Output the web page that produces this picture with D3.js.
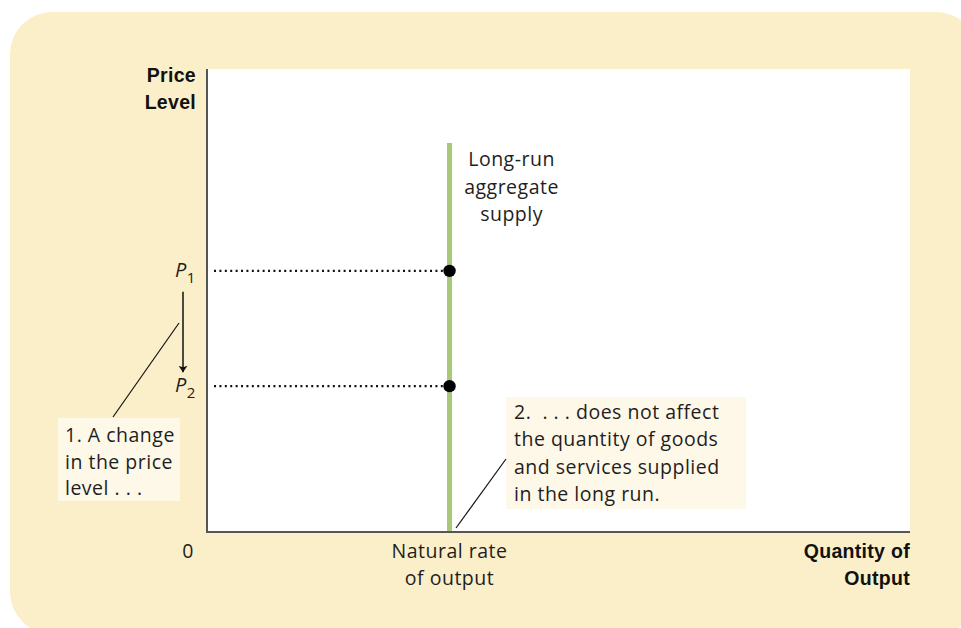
<!DOCTYPE html>
<meta charset="utf-8"/>
<title>Long-run aggregate supply</title>
<script src="https://d3js.org/d3.v7.min.js"></script>
<style>
  body { margin: 0; background: #fff; }
  text { font-family: 'Open Sans', sans-serif; fill: #1e1e1e; white-space: pre; letter-spacing: 0.5px; }
  .bold { font-family: 'Liberation Sans', sans-serif; font-weight: bold; fill: #111; letter-spacing: 0.3px; }
</style>
<svg width=961 height=628></svg>
<script>
  // values (axis units 0-100)
  const priceLevels = [56.4, 31.5];
  const priceNames = ['1', '2'];
  const naturalRate = 34.5;
  const lrasTop = 84;
  const lrasLabel = ['Long-run', 'aggregate', 'supply'];
  const note1 = ['1. A change', 'in the price', 'level . . .'];
  const note2 = ['2.  . . . does not affect', 'the quantity of goods', 'and services supplied', 'in the long run.'];
  const yTitle = ['Price', 'Level'];
  const xTitle = ['Quantity of', 'Output'];
  const xTickLabel = ['Natural rate', 'of output'];

  const svg = d3.select('svg');
  const plotL = 207, plotR = 910, plotT = 69, plotB = 532;
  const x = d3.scaleLinear().domain([0, 100]).range([plotL, plotR]);
  const y = d3.scaleLinear().domain([0, 100]).range([plotB, plotT]);
  const fs = '19.5px';

  // cream panel
  svg.append('rect')
    .attr('x', 10).attr('y', 12).attr('width', 968).attr('height', 622)
    .attr('rx', 42).attr('fill', '#fbefca');

  svg.append('rect')
    .attr('x', plotL).attr('y', plotT).attr('width', plotR - plotL).attr('height', plotB - plotT)
    .attr('fill', '#fff');

  svg.append('defs').append('marker')
    .attr('id', 'arrow').attr('viewBox', '0 0 10 14')
    .attr('refX', 10).attr('refY', 7)
    .attr('markerWidth', 12).attr('markerHeight', 9)
    .attr('markerUnits', 'userSpaceOnUse')
    .attr('orient', 'auto')
    .append('path').attr('d', 'M0,0L10,7L0,14L2.5,7Z').attr('fill', '#111');

  // dotted guides
  svg.selectAll('.guide').data(priceLevels).enter()
    .append('line')
    .attr('x1', x(1)).attr('x2', x(naturalRate))
    .attr('y1', d => y(d)).attr('y2', d => y(d))
    .attr('stroke', '#111').attr('stroke-width', 2.4)
    .attr('stroke-dasharray', '2 3.4');

  // LRAS
  svg.append('line')
    .attr('x1', x(naturalRate)).attr('x2', x(naturalRate))
    .attr('y1', y(lrasTop)).attr('y2', y(0))
    .attr('stroke', '#a9c87a').attr('stroke-width', 5);

  svg.selectAll('.dot').data(priceLevels).enter()
    .append('circle')
    .attr('cx', x(naturalRate)).attr('cy', d => y(d)).attr('r', 6.2)
    .attr('fill', '#000');

  // axes
  svg.append('path')
    .attr('d', `M${plotL},${plotT}V${plotB}H${plotR}`)
    .attr('fill', 'none').attr('stroke', '#555').attr('stroke-width', 2);

  // P labels
  const pl = svg.selectAll('.plab').data(priceLevels).enter()
    .append('text')
    .attr('x', 175).attr('y', d => y(d) + 6)
    .style('font-size', '20px');
  pl.append('tspan').style('font-style', 'italic').text('P');
  pl.append('tspan').attr('dy', 6).style('font-size', '15px').text((d, i) => priceNames[i]);

  // arrow P1 -> P2
  svg.append('line')
    .attr('x1', 183).attr('x2', 183)
    .attr('y1', y(priceLevels[0]) + 21).attr('y2', y(priceLevels[1]) - 14)
    .attr('stroke', '#111').attr('stroke-width', 1.5)
    .attr('marker-end', 'url(#arrow)');

  // LRAS label
  svg.append('g').selectAll('text').data(lrasLabel).enter()
    .append('text')
    .attr('x', x(naturalRate) + 62).attr('y', (d, i) => 166 + i * 27.5)
    .attr('text-anchor', 'middle').style('font-size', fs)
    .text(d => d);

  // note boxes
  svg.append('rect').attr('x', 58).attr('y', 418).attr('width', 122).attr('height', 83).attr('fill', '#fef8e8');
  svg.append('rect').attr('x', 506).attr('y', 397).attr('width', 240).attr('height', 112).attr('fill', '#fef8e8');

  svg.append('line').attr('x1', 179).attr('y1', 323).attr('x2', 113).attr('y2', 417)
    .attr('stroke', '#111').attr('stroke-width', 1.2);
  svg.append('line').attr('x1', 456).attr('y1', 528).attr('x2', 506).attr('y2', 459)
    .attr('stroke', '#111').attr('stroke-width', 1.2);

  svg.append('g').selectAll('text').data(note1).enter()
    .append('text')
    .attr('x', 65).attr('y', (d, i) => 442 + i * 26.5)
    .style('font-size', fs).text(d => d);

  svg.append('g').selectAll('text').data(note2).enter()
    .append('text')
    .attr('x', 514).attr('y', (d, i) => 419 + i * 27.3)
    .style('font-size', fs).text(d => d);

  // axis titles and labels
  svg.append('g').selectAll('text').data(yTitle).enter()
    .append('text').attr('class', 'bold')
    .attr('x', 196).attr('y', (d, i) => 82 + i * 27)
    .attr('text-anchor', 'end').style('font-size', '19.5px')
    .text(d => d);

  svg.append('g').selectAll('text').data(xTitle).enter()
    .append('text').attr('class', 'bold')
    .attr('x', plotR).attr('y', (d, i) => 558 + i * 27)
    .attr('text-anchor', 'end').style('font-size', '19.5px')
    .text(d => d);

  svg.append('text')
    .attr('x', 188).attr('y', 558).attr('text-anchor', 'middle')
    .style('font-size', fs).text('0');

  svg.append('g').selectAll('text').data(xTickLabel).enter()
    .append('text')
    .attr('x', x(naturalRate)).attr('y', (d, i) => 558 + i * 27)
    .attr('text-anchor', 'middle').style('font-size', fs)
    .text(d => d);
</script>
